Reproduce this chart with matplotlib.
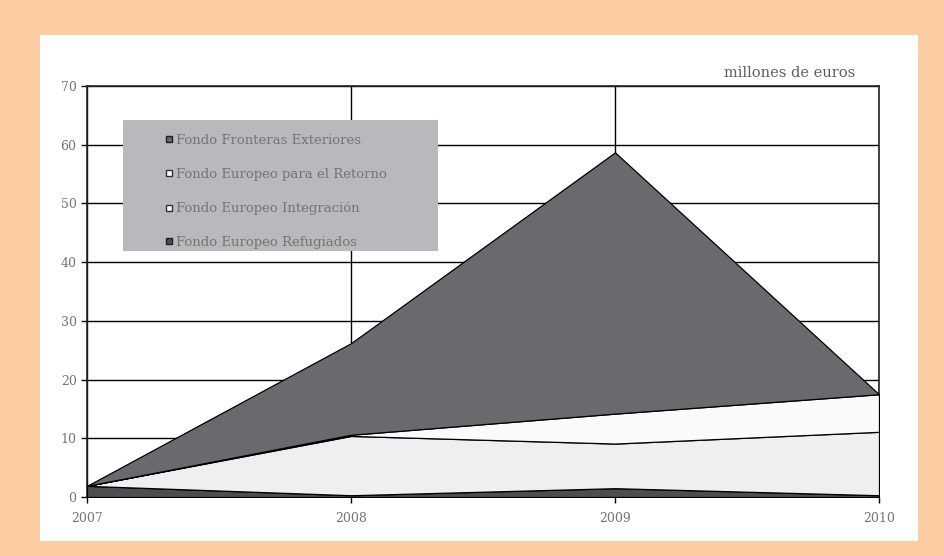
import matplotlib
matplotlib.use("Agg")
import matplotlib.pyplot as plt
from matplotlib.patches import Rectangle
from matplotlib.lines import Line2D

years = [2007, 2008, 2009, 2010]
refugiados = [1.9, 0.3, 1.5, 0.3]
integracion = [0.0, 10.1, 7.6, 10.8]
retorno = [0.0, 0.2, 5.1, 6.4]
fronteras = [0.0, 15.6, 44.5, 0.0]

labels = ["Fondo Fronteras Exteriores", "Fondo Europeo para el Retorno",
          "Fondo Europeo Integración", "Fondo Europeo Refugiados"]

c_front = "#6a6a6e"
c_ret = "#fafafa"
c_int = "#efeff1"
c_ref = "#4e4e50"
txt = "#757575"

plt.rcParams['font.family'] = ['DejaVu Serif']

fig = plt.figure(figsize=(9.45, 5.56), dpi=100)
fig.patch.set_facecolor("#fccca2")
fig.patches.append(Rectangle((40/945, 1-541/556), (918-40)/945, (541-35)/556,
                             transform=fig.transFigure, facecolor="white",
                             edgecolor="none", zorder=-5))

ax = fig.add_axes([87/945, 1-497/556, (879-87)/945, (497-86)/556])
ax.set_zorder(2)
ax.set_facecolor("white")
ax.stackplot(years, refugiados, integracion, retorno, fronteras,
             colors=[c_ref, c_int, c_ret, c_front], edgecolor="black",
             linewidth=0.9, zorder=3)

ax.set_xlim(2007, 2010)
ax.set_ylim(0, 70)
ax.set_xticks(years)
ax.set_yticks(range(0, 71, 10))
ax.grid(True, color="black", linewidth=1.0, zorder=1)
ax.set_axisbelow(True)
for s in ax.spines.values():
    s.set_color("#222222")
    s.set_linewidth(1.2)
ax.tick_params(axis='both', colors="black", labelcolor=txt, labelsize=9,
               length=4, width=1)
ax.tick_params(axis='x', pad=7)

# legend box
ax.add_patch(Rectangle((123/945, 1-251/556), (438-123)/945, (251-120)/556,
                       transform=fig.transFigure, facecolor="#b9b9bd",
                       edgecolor="none", zorder=5))
handles = [
    Line2D([], [], marker="s", linestyle="none", markersize=5,
           markerfacecolor=c_front, markeredgecolor="#222222"),
    Line2D([], [], marker="s", linestyle="none", markersize=5,
           markerfacecolor="white", markeredgecolor="#333333"),
    Line2D([], [], marker="s", linestyle="none", markersize=5,
           markerfacecolor="#f5f5f5", markeredgecolor="#333333"),
    Line2D([], [], marker="s", linestyle="none", markersize=5,
           markerfacecolor=c_ref, markeredgecolor="#222222"),
]
leg = ax.legend(handles, labels, loc="upper left",
                bbox_to_anchor=(165/945, 1-134/556), bbox_transform=fig.transFigure,
                frameon=False, fontsize=9.5, labelspacing=1.58,
                handlelength=0.6, handletextpad=0.2, borderpad=0, borderaxespad=0)
for t in leg.get_texts():
    t.set_color(txt)
leg.set_zorder(6)

fig.text(855/945, 1-73/556, "millones de euros", ha="right", va="center",
         fontsize=10.5, color="#606060")

fig.savefig("out.png", dpi=100, facecolor=fig.get_facecolor())
